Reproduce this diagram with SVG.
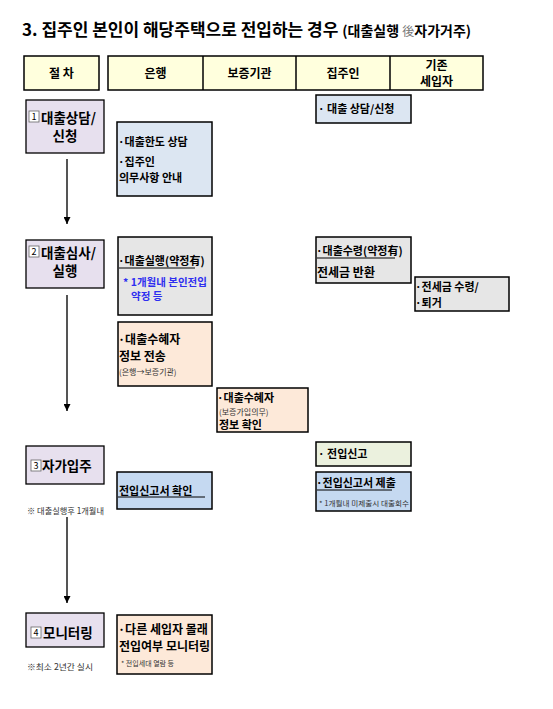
<svg xmlns="http://www.w3.org/2000/svg" width="553" height="709" viewBox="0 0 553 709">
<style>
text{font-family:"Noto Sans CJK KR","Noto Sans",sans-serif;fill:#000}
.t{font-weight:bold;font-size:11px}
.tb{font-weight:bold;font-size:12px}
.s{font-size:8px;fill:#333}
.xs{font-size:7px;fill:#333}
.step{font-weight:bold;font-size:13.5px}
.hd{font-weight:bold;font-size:12px}
.box{stroke:#000;stroke-width:1.5}
.stepbox{fill:#E7E0EE;stroke:#000;stroke-width:1.3}
.lb{fill:#DCE6F2}
.gr{fill:#E6E6E6}
.pe{fill:#FDE9D9}
.gn{fill:#EBF1DE}
.mb{fill:#C5D9F1}
.num{fill:#fff;stroke:#666;stroke-width:0.8}
.nt{font-size:8.5px;fill:#333}
.ul{stroke:#000;stroke-width:1}
.blue{font-weight:bold;font-size:10.5px;fill:#2E2EF0}
</style>
<defs>
<marker id="ah" viewBox="0 0 10 10" refX="10" refY="5" markerWidth="7" markerHeight="7" orient="auto" markerUnits="userSpaceOnUse">
<path d="M0,0 L10,5 L0,10 Z" fill="#000"/>
</marker>
</defs>
<rect width="553" height="709" fill="#fff"/>

<g id="title">
<text x="22" y="36" font-size="17" font-weight="bold">3. 집주인 본인이 해당주택으로 전입하는 경우 <tspan font-size="14">(대출실행 <tspan fill="#777" font-size="12" font-weight="normal">後</tspan>자가거주)</tspan></text>
</g>

<g id="header">
<rect x="24" y="56" width="75" height="34" fill="#FFFFDD" class="box"/>
<text x="61.5" y="78" class="hd" text-anchor="middle">절  차</text>
<rect x="108" y="56" width="375" height="34" fill="#FFFFDD" class="box"/>
<line x1="203" y1="56" x2="203" y2="90" class="box"/>
<line x1="296" y1="56" x2="296" y2="90" class="box"/>
<line x1="390" y1="56" x2="390" y2="90" class="box"/>
<text x="155.5" y="78" class="hd" text-anchor="middle">은행</text>
<text x="249.5" y="78" class="hd" text-anchor="middle">보증기관</text>
<text x="343" y="78" class="hd" text-anchor="middle">집주인</text>
<text x="436.5" y="70" class="hd" text-anchor="middle">기존</text>
<text x="436.5" y="86" class="hd" text-anchor="middle">세입자</text>
</g>

<g id="step1">
<rect x="26" y="100" width="78" height="53" class="stepbox"/>
<rect x="29" y="111" width="10" height="11" class="num"/>
<text x="34" y="120" font-size="9" text-anchor="middle" fill="#333">1</text>
<text x="41" y="123" class="step">대출상담/</text>
<text x="65" y="141" class="step" text-anchor="middle">신청</text>
</g>

<g id="step2">
<rect x="26" y="240" width="78" height="48" class="stepbox"/>
<rect x="29" y="246" width="10" height="11" class="num"/>
<text x="34" y="255" font-size="9" text-anchor="middle" fill="#333">2</text>
<text x="41" y="258" class="step">대출심사/</text>
<text x="65" y="276" class="step" text-anchor="middle">실행</text>
</g>

<g id="step3">
<rect x="26" y="446" width="78" height="38" class="stepbox"/>
<rect x="31" y="460" width="10" height="11" class="num"/>
<text x="36" y="469" font-size="9" text-anchor="middle" fill="#333">3</text>
<text x="42" y="471" class="step">자가입주</text>
<text x="27" y="514" class="nt" textLength="77" lengthAdjust="spacingAndGlyphs">※ 대출실행후 1개월내</text>
</g>

<g id="step4">
<rect x="26" y="613" width="78" height="34" class="stepbox"/>
<rect x="31" y="627" width="10" height="11" class="num"/>
<text x="36" y="636" font-size="9" text-anchor="middle" fill="#333">4</text>
<text x="43" y="638" class="step">모니터링</text>
<text x="27" y="670" class="nt" textLength="66" lengthAdjust="spacingAndGlyphs">※최소 2년간 실시</text>
</g>

<g id="connectors">
<line x1="67" y1="159" x2="67" y2="224" stroke="#555" stroke-width="2" marker-end="url(#ah)"/>
<line x1="67" y1="295" x2="67" y2="411" stroke="#555" stroke-width="2" marker-end="url(#ah)"/>
<line x1="67" y1="517" x2="67" y2="603" stroke="#555" stroke-width="2" marker-end="url(#ah)"/>
</g>

<g id="owner-apply">
<rect x="316" y="95" width="95" height="28" class="box lb"/>
<text x="318" y="113" class="t">· 대출 상담/신청</text>
</g>

<g id="bank-consult">
<rect x="117" y="122" width="95" height="74" class="box lb"/>
<text x="118" y="146" class="t">·대출한도 상담</text>
<text x="118" y="166" class="t">·집주인</text>
<text x="119" y="182" class="t">의무사항 안내</text>
</g>

<g id="bank-execute">
<rect x="118" y="237" width="94" height="78" class="box gr"/>
<text x="118" y="265" class="t">·대출실행(약정有)</text>
<line x1="119" y1="268" x2="195" y2="268" class="ul"/>
<text x="123" y="286" class="blue">* 1개월내 본인전입</text>
<text x="131" y="300" class="blue">약정 등</text>
</g>

<g id="bank-send">
<rect x="118" y="322" width="94" height="64" class="box pe"/>
<text x="118" y="344" class="tb">·대출수혜자</text>
<text x="119" y="361" class="tb">정보 전송</text>
<text x="119" y="375" class="s">(은행→보증기관)</text>
</g>

<g id="guarantee-check">
<rect x="217" y="388" width="91" height="44" class="box pe"/>
<text x="217" y="402" class="t">·대출수혜자</text>
<text x="219" y="415" class="s">(보증가입의무)</text>
<text x="219" y="429" class="t">정보 확인</text>
</g>

<g id="owner-receive">
<rect x="316" y="237" width="95" height="46" class="box gr"/>
<text x="316" y="255" class="t">·대출수령(약정有)</text>
<line x1="317" y1="258" x2="395" y2="258" class="ul"/>
<text x="317" y="277" class="tb">전세금 반환</text>
</g>

<g id="tenant-leave">
<rect x="415" y="277" width="94" height="34" class="box gr"/>
<text x="415" y="291" class="t">·전세금 수령/</text>
<text x="415" y="307" class="t">·퇴거</text>
</g>

<g id="owner-report">
<rect x="316" y="442" width="95" height="24" class="box gn"/>
<text x="318" y="458" class="t">· 전입신고</text>
</g>

<g id="owner-submit">
<rect x="316" y="472" width="95" height="39" class="box mb"/>
<text x="316" y="487" class="t">·전입신고서 제출</text>
<line x1="317" y1="490" x2="392" y2="490" class="ul"/>
<text x="319" y="506" class="xs" textLength="90" lengthAdjust="spacingAndGlyphs">* 1개월내 미제출시 대출회수</text>
</g>

<g id="bank-confirm">
<rect x="117" y="472" width="95" height="37" class="box mb"/>
<text x="119" y="495" class="t">전입신고서 확인</text>
<line x1="118" y1="497" x2="205" y2="497" class="ul"/>
</g>

<g id="bank-monitor">
<rect x="117" y="615" width="95" height="59" class="box pe"/>
<text x="118" y="634" class="tb">·다른 세입자 몰래</text>
<text x="119" y="651" class="tb">전입여부 모니터링</text>
<text x="121" y="666" class="xs">* 전입세대 열람 등</text>
</g>
</svg>
